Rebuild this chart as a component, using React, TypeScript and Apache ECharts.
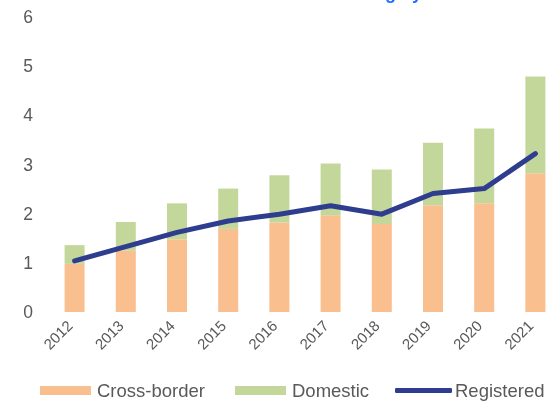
import React, { useEffect, useRef } from "react";
import * as echarts from "echarts";

const years = ["2012", "2013", "2014", "2015", "2016", "2017", "2018", "2019", "2020", "2021"];
const crossBorder = [0.98, 1.25, 1.48, 1.69, 1.82, 1.97, 1.79, 2.17, 2.21, 2.82];
const domestic = [0.38, 0.58, 0.73, 0.82, 0.96, 1.05, 1.11, 1.27, 1.52, 1.97];
const registered = [1.04, 1.33, 1.62, 1.85, 1.99, 2.16, 1.99, 2.41, 2.51, 3.22];

const FONT = "'Liberation Sans', Arial, sans-serif";
const LEG_TEXT = { fontSize: 18.5, color: "#595959", fontFamily: FONT };

export default function App() {
  const ref = useRef<HTMLDivElement>(null);
  useEffect(() => {
    if (!ref.current) return;
    const chart = echarts.init(ref.current, undefined, { renderer: "svg" });
    chart.setOption({
      animation: false,
      textStyle: { fontFamily: FONT },
      graphic: [
        {
          type: "text",
          x: 422,
          y: 2,
          style: {
            text: "Outstanding by",
            fill: "#1F6BFF",
            font: "bold 18px " + FONT,
            textAlign: "right",
            textVerticalAlign: "bottom",
          },
        },
      ],
      grid: { left: 49, right: 0, top: 17, bottom: 89, containLabel: false },
      legend: [
        {
          left: 40,
          top: 381,
          padding: 0,
          itemWidth: 51,
          itemHeight: 9,
          itemGap: 6,
          textStyle: { ...LEG_TEXT, padding: [0, 0, 0, 1] },
          data: [{ name: "Cross-border", icon: "rect" }],
        },
        {
          left: 235,
          top: 381,
          padding: 0,
          itemWidth: 51,
          itemHeight: 9,
          textStyle: { ...LEG_TEXT, padding: [0, 0, 0, 1] },
          data: [{ name: "Domestic", icon: "rect" }],
        },
        {
          left: 395,
          top: 381,
          padding: 0,
          itemWidth: 57,
          itemHeight: 5,
          textStyle: { ...LEG_TEXT, padding: [0, 0, 0, -2] },
          data: [{ name: "Registered", icon: "roundRect" }],
        },
      ],
      xAxis: {
        type: "category",
        data: years,
        axisLine: { show: false },
        axisTick: { show: false },
        axisLabel: {
          rotate: 45,
          fontSize: 15,
          color: "#595959",
          margin: 6,
          padding: [0, 7, 0, 0],
          fontFamily: FONT,
        },
      },
      yAxis: {
        type: "value",
        min: 0,
        max: 6,
        interval: 1,
        splitLine: { show: false },
        axisLine: { show: false },
        axisTick: { show: false },
        axisLabel: { fontSize: 17.5, color: "#595959", margin: 16, fontFamily: FONT },
      },
      series: [
        {
          name: "Cross-border",
          type: "bar",
          stack: "total",
          barWidth: 20,
          data: crossBorder,
          itemStyle: { color: "#F9BF8F" },
        },
        {
          name: "Domestic",
          type: "bar",
          stack: "total",
          barWidth: 20,
          data: domestic,
          itemStyle: { color: "#C4D79B" },
        },
        {
          name: "Registered",
          type: "line",
          data: registered,
          symbol: "none",
          lineStyle: { color: "#2E3D8E", width: 5, cap: "round", join: "round" },
          itemStyle: { color: "#2E3D8E" },
        },
      ],
    });
    return () => chart.dispose();
  }, []);
  return (
    <div style={{ position: "fixed", left: 0, top: 0, width: 547, height: 401, overflow: "hidden" }}>
      <div ref={ref} style={{ width: 561, height: 401 }} />
    </div>
  );
}
